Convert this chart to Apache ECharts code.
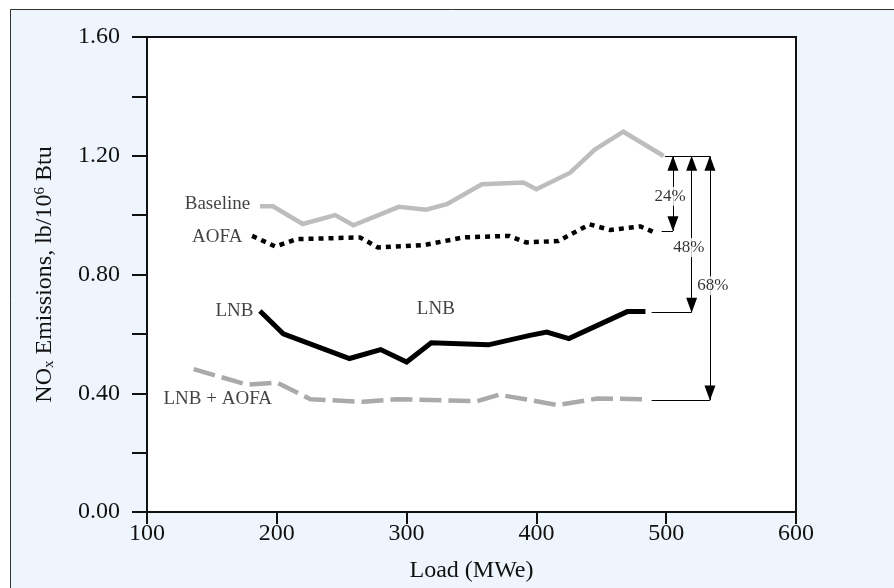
<!DOCTYPE html>
<html>
<head>
<meta charset="utf-8">
<script src="https://cdn.jsdelivr.net/npm/echarts@6/dist/echarts.min.js"></script>
<style>
  html, body { margin: 0; padding: 0; background: #fff; }
  #chart { width: 894px; height: 588px; }
</style>
</head>
<body>
<div id="chart"></div>
<script>
// load (MWe) and NOx (lb/10^6 Btu)
let baselineLoad = [187, 197, 220, 245, 259, 294, 315, 331, 358, 390, 400, 426, 445, 467, 498];
let baselineNox = [1.03, 1.03, 0.97, 1.00, 0.966, 1.028, 1.018, 1.037, 1.104, 1.11, 1.087, 1.143, 1.221, 1.281, 1.199];

let aofaLoad = [181, 199, 215, 264, 278, 313, 344, 379, 392, 417, 441, 457, 480, 491];
let aofaNox = [0.93, 0.894, 0.919, 0.925, 0.891, 0.899, 0.925, 0.93, 0.908, 0.913, 0.969, 0.95, 0.962, 0.942];

let lnbLoad = [187, 205, 256, 280, 300, 319, 363, 395, 408, 425, 470, 484];
let lnbNox = [0.677, 0.60, 0.517, 0.547, 0.505, 0.57, 0.563, 0.595, 0.606, 0.584, 0.675, 0.675];

let lnbAofaLoad = [136, 177, 200, 226, 267, 292, 354, 371, 395, 416, 447, 485];
let lnbAofaNox = [0.481, 0.429, 0.436, 0.38, 0.371, 0.38, 0.373, 0.395, 0.377, 0.36, 0.382, 0.38];

// text notes: [load, nox, text, align]
let notes = [
    [179.5, 1.037, 'Baseline', 'right'],
    [173.5, 0.926, 'AOFA', 'right'],
    [182, 0.678, 'LNB', 'right'],
    [322.5, 0.684, 'LNB', 'center'],
    [154.5, 0.379, 'LNB + AOFA', 'center']
];

// reduction brackets
let leaders = [[499, 533.7, 1.198], [496.5, 505.2, 0.947], [488.8, 519.6, 0.673], [488.8, 533.7, 0.377]];
let arrows = [[505.2, 1.198, 0.947], [519.6, 1.198, 0.673], [533.7, 1.198, 0.377]];
let pctLabels = [[503, 1.064, '24%'], [517.5, 0.891, '48%'], [536, 0.7625, '68%']];

let xTicks = [100, 600, 100];
let yTicks = [0, 1.6, 0.2];

let FONT = 'Liberation Serif';

let pairs = function (xs, ys) {
    return xs.map(function (x, i) { return [x, ys[i]]; });
};

let chart = echarts.init(document.getElementById('chart'));

let markData = [];
leaders.forEach(function (l) {
    markData.push([{ coord: [l[0], l[2]] }, { coord: [l[1], l[2]] }]);
});
arrows.forEach(function (a) {
    markData.push([{ coord: [a[0], a[1]], symbol: 'triangle' }, { coord: [a[0], a[2]], symbol: 'triangle' }]);
});

let noteData = notes.map(function (n) {
    return {
        value: [n[0], n[1]],
        label: { formatter: n[2], align: n[3] }
    };
});
let pctData = pctLabels.map(function (p) {
    return { value: [p[0], p[1]], label: { formatter: p[2] } };
});

let option = {
    backgroundColor: '#fff',
    animation: false,
    graphic: [{
        type: 'rect',
        z: -100,
        shape: { x: 10.5, y: 9.5, width: 900, height: 600 },
        style: { fill: '#eef5fc', stroke: '#333', lineWidth: 1 }
    }],
    grid: {
        left: 147, right: 98, top: 37, bottom: 74,
        show: true,
        backgroundColor: '#fff',
        borderColor: '#111',
        borderWidth: 2
    },
    xAxis: {
        type: 'value',
        min: xTicks[0], max: xTicks[1], interval: xTicks[2],
        name: 'Load (MWe)',
        nameLocation: 'middle',
        nameGap: 47,
        nameTextStyle: { fontFamily: FONT, fontSize: 24, color: '#111' },
        axisLine: { lineStyle: { color: '#111', width: 2 } },
        axisTick: { inside: false, length: 12, lineStyle: { color: '#111', width: 2 } },
        axisLabel: { fontFamily: FONT, fontSize: 24, color: '#111', margin: 10 },
        splitLine: { show: false }
    },
    yAxis: {
        type: 'value',
        min: yTicks[0], max: yTicks[1], interval: yTicks[2],
        name: 'NO{sub|x} Emissions, lb/10{sup|6} Btu',
        nameLocation: 'middle',
        nameGap: 90,
        nameTextStyle: {
            fontFamily: FONT, fontSize: 24, color: '#111',
            rich: {
                sub: { fontFamily: FONT, fontSize: 15, color: '#111', verticalAlign: 'bottom', lineHeight: 24 },
                sup: { fontFamily: FONT, fontSize: 15, color: '#111', verticalAlign: 'top', lineHeight: 24 }
            }
        },
        axisLine: { show: true, lineStyle: { color: '#111', width: 2 } },
        axisTick: { show: true, inside: false, length: 15, lineStyle: { color: '#111', width: 2 } },
        axisLabel: {
            fontFamily: FONT, fontSize: 24, color: '#111', margin: 27,
            formatter: function (v) {
                return Math.round(v * 10) % 4 === 0 ? v.toFixed(2) : '';
            }
        },
        splitLine: { show: false }
    },
    series: [
        {
            name: 'Baseline', type: 'line', data: pairs(baselineLoad, baselineNox),
            showSymbol: false,
            lineStyle: { color: '#bdbdbd', width: 4.5, join: 'miter' }
        },
        {
            name: 'AOFA', type: 'line', data: pairs(aofaLoad, aofaNox),
            showSymbol: false,
            lineStyle: { color: '#000', width: 4.5, type: [5, 5], cap: 'butt' }
        },
        {
            name: 'LNB', type: 'line', data: pairs(lnbLoad, lnbNox),
            showSymbol: false,
            lineStyle: { color: '#000', width: 5, join: 'miter' }
        },
        {
            name: 'LNB + AOFA', type: 'line', data: pairs(lnbAofaLoad, lnbAofaNox),
            showSymbol: false,
            lineStyle: { color: '#aaaaaa', width: 4.5, type: [22, 7], cap: 'butt' }
        },
        {
            name: 'notes', type: 'scatter', data: noteData,
            symbolSize: 0, silent: true,
            label: {
                show: true, position: 'inside', verticalAlign: 'middle',
                fontFamily: FONT, fontSize: 19, color: '#111'
            },
            markLine: {
                silent: true,
                symbol: ['none', 'none'],
                symbolSize: [11, 15],
                symbolOffset: [[0, 7], [0, 7]],
                label: { show: false },
                lineStyle: { color: '#000', width: 1, type: 'solid' },
                emphasis: { disabled: true },
                data: markData
            }
        },
        {
            name: 'pct', type: 'scatter', data: pctData,
            symbolSize: 0, silent: true, z: 5,
            label: {
                show: true, position: 'inside', align: 'center', verticalAlign: 'middle',
                fontFamily: FONT, fontSize: 17, color: '#000',
                backgroundColor: '#fff', padding: [1, 1]
            }
        }
    ]
};

chart.setOption(option);
</script>
</body>
</html>
